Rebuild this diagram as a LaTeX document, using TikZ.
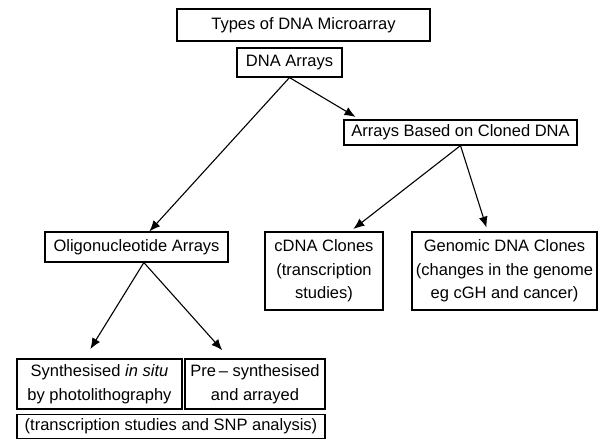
\documentclass[tikz,border=0pt]{standalone}
\usepackage{fontspec}
\setmainfont{Liberation Sans}
\usetikzlibrary{positioning,arrows.meta,calc}

\begin{document}
\begin{tikzpicture}[x=1pt,y=-1pt,>={Latex[length=11pt,width=9pt]},
  box/.style={draw,line width=1.1pt,align=center,inner sep=0pt,
              font=\fontsize{16.5}{23.5}\selectfont},
  link/.style={->,line width=1.1pt}]
\useasboundingbox (0,0) rectangle (598,439);
\node[box,minimum width=253pt,minimum height=32pt] (types) at (303.5,25) {Types of DNA Microarray};
\node[box,minimum width=105pt,minimum height=29pt] (dna) at (289.5,62.5) {DNA Arrays};
\node[box,minimum width=233pt,minimum height=25pt] (cloned) at (460.5,132.5) {Arrays Based on Cloned DNA};
\node[box,minimum width=183pt,minimum height=30pt] (oligo) at (136.5,247) {Oligonucleotide Arrays};
\node[box,minimum width=118pt,minimum height=78pt] (cdna) at (324,271) {cDNA Clones\\(transcription\\studies)};
\node[box,minimum width=185pt,minimum height=78pt] (genomic) at (504.5,271) {Genomic DNA Clones\\(changes in the genome\\eg cGH and cancer)};
\node[box,minimum width=165pt,minimum height=50pt] (insitu) at (99.5,384) {Synthesised \emph{in situ}\\by photolithography};
\node[box,minimum width=140pt,minimum height=50pt] (pre) at (255,384) {Pre\,-- synthesised\\and arrayed};
\node[box,minimum width=308pt,minimum height=24pt,below right=4pt and 0pt of insitu.south west,anchor=north west] (uses) {(transcription studies and SNP analysis)};
% arrows
\draw[link] (dna.south) -- ($(oligo.north west)!0.57!(oligo.north east)$);
\draw[link,shorten >=5pt] (dna.south) -- ($(cloned.north west)!0.07!(cloned.north east)$);
\draw[link,shorten >=4pt] (cloned.south) -- ($(cdna.north west)!0.72!(cdna.north east)$);
\draw[link,shorten >=4pt] (cloned.south) -- ($(genomic.north west)!0.41!(genomic.north east)$);
\draw[link,shorten >=11pt] ($(oligo.south west)!0.54!(oligo.south east)$) -- ($(insitu.north west)!0.41!(insitu.north east)$);
\draw[link,shorten >=11pt] ($(oligo.south west)!0.54!(oligo.south east)$) -- ($(pre.north west)!0.32!(pre.north east)$);
\end{tikzpicture}
\end{document}
